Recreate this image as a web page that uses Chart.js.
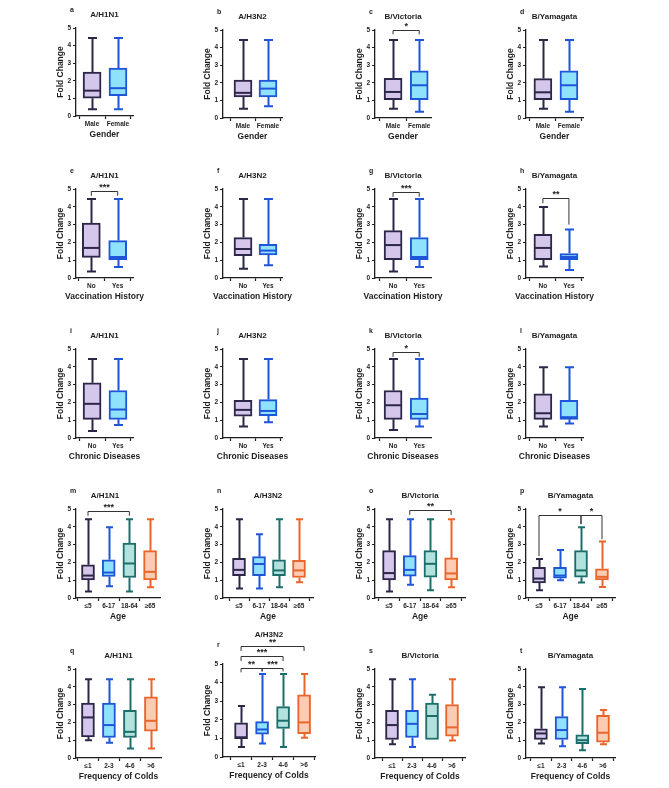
<!DOCTYPE html>
<html><head><meta charset="utf-8">
<script src="https://cdn.jsdelivr.net/npm/chart.js@4.4.0/dist/chart.umd.min.js"></script>
<style>
html,body{margin:0;padding:0;background:#fff;}
#wrap{position:relative;width:669px;height:788px;overflow:hidden;background:#fff;}
canvas{position:absolute;}
</style></head><body><div id="wrap"></div>
<script>
// ---------- categories / labels ----------
const genderCats = ['Male', 'Female'];
const yesNoCats = ['No', 'Yes'];
const ageCats = ['≤5', '6-17', '18-64', '≥65'];
const coldCats = ['≤1', '2-3', '4-6', '>6'];
const yTicks = [0, 1, 2, 3, 4, 5];
const yTitle = 'Fold Change';

// ---------- box values: [min, Q1, median, Q3, max] per group ----------
const valsA = [[0.38,1.01,1.44,2.49,4.43],[0.38,1.16,1.58,2.72,4.43]];
const valsB = [[0.53,1.20,1.43,2.15,4.43],[0.67,1.20,1.67,2.15,4.43]];
const valsC = [[0.53,1.04,1.48,2.26,4.43],[0.36,1.04,1.86,2.68,4.43]];
const valsD = [[0.53,1.04,1.46,2.24,4.43],[0.36,1.04,1.86,2.68,4.43]];
const valsE = [[0.37,1.16,1.69,3.09,4.44],[0.62,1.03,1.18,2.10,4.44]];
const valsF = [[0.52,1.25,1.63,2.27,4.44],[0.71,1.29,1.54,1.89,4.44]];
const valsG = [[0.37,1.03,1.85,2.66,4.44],[0.62,1.03,1.18,2.27,4.44]];
const valsH = [[0.64,1.03,1.69,2.45,3.99],[0.45,1.03,1.18,1.37,2.72]];
const valsI = [[0.39,1.05,1.92,3.10,4.44],[0.73,1.05,1.60,2.67,4.44]];
const valsJ = [[0.64,1.22,1.58,2.12,4.44],[0.88,1.26,1.52,2.16,4.44]];
const valsK = [[0.45,1.05,1.84,2.67,4.44],[0.64,1.05,1.35,2.24,4.44]];
const valsL = [[0.64,1.05,1.39,2.48,3.98],[0.81,1.05,1.17,2.12,3.98]];
const valsM = [[0.36,1.02,1.26,1.87,4.43],[0.66,1.21,1.43,2.15,3.98],[0.36,1.15,1.94,3.09,4.43],[0.60,1.02,1.47,2.66,4.43]];
const valsN = [[0.53,1.25,1.58,2.23,4.43],[0.53,1.26,1.91,2.32,3.58],[0.60,1.25,1.55,2.15,4.43],[0.89,1.15,1.55,2.11,4.43]];
const valsO = [[0.36,1.02,1.40,2.66,4.43],[0.75,1.23,1.58,2.38,4.43],[0.43,1.17,1.92,2.66,4.43],[0.60,1.02,1.38,2.25,4.43]];
const valsP = [[0.43,0.85,1.09,1.72,2.19],[1.00,1.11,1.26,1.72,2.70],[0.87,1.17,1.55,2.66,3.98],[0.62,1.02,1.19,1.64,3.17]];
const valsQ = [[1.00,1.19,2.28,3.09,4.43],[0.85,1.15,1.85,3.09,4.43],[0.53,1.15,1.47,2.68,4.43],[0.53,1.51,2.09,3.43,4.43]];
const valsR = [[0.54,0.99,1.06,1.84,2.74],[0.72,1.23,1.48,1.90,4.46],[0.54,1.53,1.95,2.71,4.46],[1.03,1.25,1.86,3.34,4.46]];
const valsS = [[0.77,1.04,1.85,2.68,4.43],[0.62,1.15,1.92,2.68,4.43],[1.04,1.04,2.36,3.09,3.55],[0.98,1.23,1.72,3.00,4.43]];
const valsT = [[0.81,1.04,1.38,1.64,3.98],[0.66,1.04,1.57,2.32,3.98],[0.43,0.81,1.00,1.30,3.87],[0.77,0.89,1.42,2.40,2.70]];

// ---------- significance brackets: [fromIdx, toIdx, level, stubA, stubB, label, labelPos] ----------
const sigC = [[0,1,5.0,4.75,4.75,'*']];
const sigE = [[0,1,4.87,4.62,4.62,'***']];
const sigG = [[0,1,4.81,4.56,4.56,'***']];
const sigH = [[0,1,4.49,4.2,3.0,'**']];
const sigK = [[0,1,4.81,4.56,4.56,'*']];
const sigM = [[0,2,4.87,4.62,4.62,'***']];
const sigO = [[1,3,4.92,4.67,4.67,'**']];
const sigP = [[0,2,4.68,2.35,4.15,'*',1],[2,3,4.68,4.15,3.3,'*',2.5]];
const sigR = [[0,1,4.78,4.55,4.6,'**'],[1,2,4.78,4.6,4.6,'***'],[0,2,5.43,5.16,5.16,'***'],[0,3,5.97,5.7,5.7,'**']];

// ---------- styling ----------
const FONT = '"Liberation Sans", Arial, Helvetica, sans-serif';
const INK = '#1e1e1e';
const PAL = [
  {fill:'#d5c7ec', line:'#2c2647'},
  {fill:'#8fe2fc', line:'#1f55d8'},
  {fill:'#b2e1de', line:'#1c6e6a'},
  {fill:'#fccbb3', line:'#ea652a'}
];

const panels = [
  {id:'a', title:'A/H1N1',     cats:genderCats, vals:valsA, xt:'Gender', ax:76,  ex:133, xmin:-0.62, xmax:1.58, y5:28,  y0:116},
  {id:'b', title:'A/H3N2',     cats:genderCats, vals:valsB, xt:'Gender', ax:223, ex:282, xmin:-0.80, xmax:1.56, y5:30,  y0:118},
  {id:'c', title:'B/Victoria', cats:genderCats, vals:valsC, xt:'Gender', ax:375, ex:431, xmin:-0.69, xmax:1.45, y5:30,  y0:118, sig:sigC},
  {id:'d', title:'B/Yamagata', cats:genderCats, vals:valsD, xt:'Gender', ax:526, ex:583, xmin:-0.65, xmax:1.54, y5:30,  y0:118},

  {id:'e', title:'A/H1N1',     cats:yesNoCats, vals:valsE, xt:'Vaccination History', ax:76,  ex:133, xmin:-0.58, xmax:1.58, y5:189, y0:278, sig:sigE},
  {id:'f', title:'A/H3N2',     cats:yesNoCats, vals:valsF, xt:'Vaccination History', ax:223, ex:282, xmin:-0.80, xmax:1.56, y5:189, y0:278},
  {id:'g', title:'B/Victoria', cats:yesNoCats, vals:valsG, xt:'Vaccination History', ax:375, ex:431, xmin:-0.69, xmax:1.45, y5:189, y0:278, sig:sigG},
  {id:'h', title:'B/Yamagata', cats:yesNoCats, vals:valsH, xt:'Vaccination History', ax:526, ex:583, xmin:-0.65, xmax:1.54, y5:189, y0:278, sig:sigH},

  {id:'i', title:'A/H1N1',     cats:yesNoCats, vals:valsI, xt:'Chronic Diseases', ax:76,  ex:133, xmin:-0.62, xmax:1.58, y5:349, y0:438},
  {id:'j', title:'A/H3N2',     cats:yesNoCats, vals:valsJ, xt:'Chronic Diseases', ax:223, ex:282, xmin:-0.80, xmax:1.56, y5:349, y0:438},
  {id:'k', title:'B/Victoria', cats:yesNoCats, vals:valsK, xt:'Chronic Diseases', ax:375, ex:431, xmin:-0.69, xmax:1.45, y5:349, y0:438, sig:sigK},
  {id:'l', title:'B/Yamagata', cats:yesNoCats, vals:valsL, xt:'Chronic Diseases', ax:526, ex:583, xmin:-0.65, xmax:1.54, y5:349, y0:438},

  {id:'m', title:'A/H1N1',     cats:ageCats, vals:valsM, xt:'Age', ax:76,  ex:160, xmin:-0.58, xmax:3.48, y5:509, y0:598, sig:sigM, tx:105},
  {id:'n', title:'A/H3N2',     cats:ageCats, vals:valsN, xt:'Age', ax:223, ex:313, xmin:-0.80, xmax:3.70, y5:509, y0:598},
  {id:'o', title:'B/Victoria', cats:ageCats, vals:valsO, xt:'Age', ax:375, ex:465, xmin:-0.68, xmax:3.67, y5:509, y0:598, sig:sigO},
  {id:'p', title:'B/Yamagata', cats:ageCats, vals:valsP, xt:'Age', ax:526, ex:615, xmin:-0.62, xmax:3.62, y5:509, y0:598, sig:sigP},

  {id:'q', title:'A/H1N1',     cats:coldCats, vals:valsQ, xt:'Frequency of Colds', ax:76,  ex:161, xmin:-0.57, xmax:3.48, y5:669, y0:758},
  {id:'r', title:'A/H3N2',     cats:coldCats, vals:valsR, xt:'Frequency of Colds', ax:223, ex:315, xmin:-0.86, xmax:3.52, y5:664, y0:757, sig:sigR, tOff:29, lOff:19},
  {id:'s', title:'B/Victoria', cats:coldCats, vals:valsS, xt:'Frequency of Colds', ax:375, ex:465, xmin:-0.85, xmax:3.65, y5:669, y0:758},
  {id:'t', title:'B/Yamagata', cats:coldCats, vals:valsT, xt:'Frequency of Colds', ax:526, ex:615, xmin:-0.72, xmax:3.58, y5:669, y0:758}
];

const wrap = document.getElementById('wrap');
const L = 42, R = 30, T = 46, B = 2, WY = 20, HX = 24;

function boxPlugin(p, cols, bw) {
  return {
    id: 'box_' + p.id,
    beforeDatasetsDraw(chart) {
      const ctx = chart.ctx, xs = chart.scales.x, ys = chart.scales.y;
      const cap = p.cats.length === 2 ? 9 : 7;
      ctx.save();
      ctx.lineWidth = 2;
      p.vals.forEach((v, i) => {
        const x = Math.round(xs.getPixelForValue(i)) + 0.5;
        ctx.strokeStyle = cols[i].line;
        ctx.beginPath();
        ctx.moveTo(x, ys.getPixelForValue(v[4])); ctx.lineTo(x, ys.getPixelForValue(v[3]));
        ctx.moveTo(x, ys.getPixelForValue(v[1])); ctx.lineTo(x, ys.getPixelForValue(v[0]));
        ctx.moveTo(x - cap/2, ys.getPixelForValue(v[4])); ctx.lineTo(x + cap/2, ys.getPixelForValue(v[4]));
        if (v[0] < v[1]) { ctx.moveTo(x - cap/2, ys.getPixelForValue(v[0])); ctx.lineTo(x + cap/2, ys.getPixelForValue(v[0])); }
        ctx.stroke();
      });
      ctx.restore();
    },
    afterDatasetsDraw(chart) {
      const ctx = chart.ctx, xs = chart.scales.x, ys = chart.scales.y, ca = chart.chartArea;
      ctx.save();
      ctx.lineWidth = 2;
      p.vals.forEach((v, i) => {
        const x = xs.getPixelForValue(i);
        ctx.strokeStyle = cols[i].line;
        ctx.beginPath();
        ctx.moveTo(x - bw/2 + 1, ys.getPixelForValue(v[2]));
        ctx.lineTo(x + bw/2 - 1, ys.getPixelForValue(v[2]));
        ctx.stroke();
      });
      // significance brackets
      (p.sig || []).forEach(s => {
        const xa = xs.getPixelForValue(s[0]), xb = xs.getPixelForValue(s[1]);
        const yl = Math.round(ys.getPixelForValue(s[2])) + 0.5;
        ctx.strokeStyle = '#333'; ctx.lineWidth = 1;
        ctx.beginPath();
        ctx.moveTo(xa, ys.getPixelForValue(s[3])); ctx.lineTo(xa, yl);
        ctx.lineTo(xb, yl); ctx.lineTo(xb, ys.getPixelForValue(s[4]));
        ctx.stroke();
        const tx = s[6] !== undefined ? xs.getPixelForValue(s[6]) : (xa + xb) / 2;
        ctx.fillStyle = INK;
        ctx.font = 'bold 9px ' + FONT;
        ctx.textAlign = 'center'; ctx.textBaseline = 'middle';
        ctx.fillText(s[5], tx, yl - 4);
      });
      // chart title, x-axis title and panel letter
      ctx.fillStyle = INK;
      ctx.font = 'bold 8px ' + FONT;
      ctx.textAlign = 'center'; ctx.textBaseline = 'middle';
      const tcx = p.tx !== undefined ? p.tx - (p.ax - L) : (ca.left + ca.right) / 2;
      ctx.fillText(p.title, tcx, ca.top - (p.tOff || 13));
      ctx.font = 'bold 8.5px ' + FONT;
      ctx.fillText(p.xt, (ca.left + ca.right) / 2, ca.bottom + 19);
      ctx.font = 'bold 7px ' + FONT;
      ctx.textAlign = 'left';
      ctx.fillText(p.id, ca.left - 6, ca.top - (p.lOff || 18));
      ctx.restore();
    }
  };
}

function makePanel(p) {
  const w = p.ex - p.ax + L + R, h = p.y0 - p.y5 + T + HX + B;
  const cv = document.createElement('canvas');
  cv.width = w; cv.height = h;
  cv.style.width = w + 'px'; cv.style.height = h + 'px';
  cv.style.left = (p.ax - L) + 'px'; cv.style.top = (p.y5 - T) + 'px';
  wrap.appendChild(cv);
  const n = p.cats.length;
  const cols = PAL.slice(0, n);
  const bw = n === 2 ? 18 : 13;
  const tickFont = {family: FONT, size: 6.5, weight: 'bold'};
  const titleFont = {family: FONT, size: 8.5, weight: 'bold'};
  new Chart(cv, {
    type: 'bar',
    data: {
      datasets: [{
        data: p.vals.map((v, i) => ({x: i, y: [v[1], v[3]]})),
        backgroundColor: cols.map(c => c.fill),
        borderColor: cols.map(c => c.line),
        borderWidth: 2,
        borderSkipped: false,
        barThickness: bw
      }]
    },
    options: {
      responsive: false, animation: false, devicePixelRatio: 1,
      layout: {padding: {left: L - WY, right: R, top: T, bottom: B}},
      plugins: {legend: {display: false}, tooltip: {enabled: false}, title: {display: false}},
      scales: {
        x: {
          type: 'linear', min: p.xmin, max: p.xmax, offset: false,
          afterBuildTicks: s => { s.ticks = p.cats.map((c, i) => ({value: i})); },
          afterFit: s => { s.height = HX; },
          ticks: {callback: v => p.cats[v], font: tickFont, color: INK, padding: 1, maxRotation: 0, autoSkip: false},
          grid: {drawOnChartArea: false, tickLength: 3, color: INK, tickWidth: 1.2},
          border: {color: INK, width: 1.3},
          title: {display: false}
        },
        y: {
          min: 0, max: 5,
          afterBuildTicks: s => { s.ticks = yTicks.map(v => ({value: v})); },
          afterFit: s => { s.width = WY; },
          ticks: {font: tickFont, color: INK, padding: 2},
          grid: {drawOnChartArea: false, tickLength: 3, color: INK, tickWidth: 1.2},
          border: {color: INK, width: 1.3},
          title: {display: true, text: yTitle, font: titleFont, color: INK, padding: 0}
        }
      }
    },
    plugins: [boxPlugin(p, cols, bw)]
  });
}

panels.forEach(makePanel);
</script>
</body></html>
